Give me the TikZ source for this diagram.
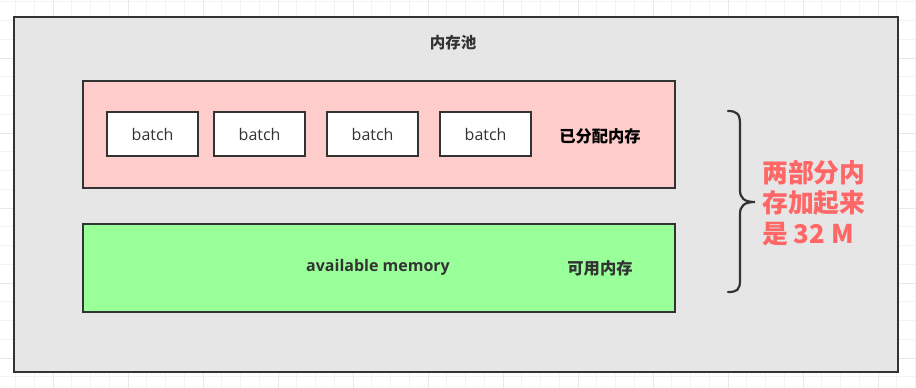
\documentclass[tikz,border=0pt]{standalone}
\usepackage{fontspec}
\setmainfont{Open Sans}
\newfontfamily\cjk{Noto Sans CJK SC}
\definecolor{ink}{HTML}{333333}
\definecolor{poolfill}{HTML}{E6E6E6}
\definecolor{pinkfill}{HTML}{FFCCCC}
\definecolor{greenfill}{HTML}{99FF99}
\definecolor{redtxt}{HTML}{FF6666}
\definecolor{gridminor}{HTML}{F3F3F3}
\definecolor{gridmajor}{HTML}{E9E9E9}
\tikzset{
  boxstyle/.style={draw=ink, line width=2.2pt, inner sep=0pt, anchor=north west},
  batchbox/.style={boxstyle, fill=white, minimum width=91pt, minimum height=44pt,
    font=\fontsize{16}{19}\selectfont, text=ink},
  cjklabel/.style={font=\cjk\bfseries\fontsize{16.3}{19}\selectfont, inner sep=0pt},
}
\begin{document}
\begin{tikzpicture}[x=1pt,y=-1pt]
\useasboundingbox (0,0) rectangle (916,388);
\fill[white] (0,0) rectangle (916,388);
% grid
\foreach \k in {-2,...,46} {
  \draw[gridminor, line width=0.8pt] ({53+18.75*\k},0) -- ({53+18.75*\k},388);
}
\foreach \k in {0,...,20} {
  \draw[gridminor, line width=0.8pt] (0,{1.75+18.75*\k}) -- (916,{1.75+18.75*\k});
}
\foreach \k in {0,...,11} {
  \draw[gridmajor, line width=0.9pt] ({53+75*\k},0) -- ({53+75*\k},388);
}
\foreach \k in {0,...,4} {
  \draw[gridmajor, line width=0.9pt] (0,{58+75*\k}) -- (916,{58+75*\k});
}
% pool
\node[boxstyle, fill=poolfill, minimum width=884pt, minimum height=355pt] (pool) at (12.5,16) {};
\node[cjklabel, text=ink, font=\cjk\bfseries\fontsize{15.5}{18}\selectfont] (pooltitle) at (453,43) {内存池};
% allocated
\node[boxstyle, fill=pinkfill, minimum width=592pt, minimum height=107pt] (alloc) at (82,80) {};
\node[batchbox] (b1) at (106,111) {batch};
\node[batchbox] (b2) at (213,111) {batch};
\node[batchbox] (b3) at (326,111) {batch};
\node[batchbox] (b4) at (439,111) {batch};
\node[cjklabel, text=black] (alloclabel) at (600,136) {已分配内存};
% available
\node[boxstyle, fill=greenfill, minimum width=592pt, minimum height=88pt] (avail) at (82,223) {};
\node[font=\bfseries\fontsize{16}{19}\selectfont, text=ink, inner sep=0pt] (availtext) at (378,267) {available memory};
\node[cjklabel, text=ink] (availlabel) at (600,268) {可用内存};
% brace
\coordinate (bt) at (728,111);
\coordinate (bb) at (728,292);
\coordinate (btip) at (755,202);
\draw[ink, line width=2.2pt, line cap=round]
  (bt) .. controls (737,111) and (740,114) .. (740,124) -- (740,190)
  .. controls (740,198) and (744,202) .. (btip)
  .. controls (744,202) and (740,206) .. (740,214) -- (740,280)
  .. controls (740,290) and (737,292) .. (bb);
% note
\node[font=\cjk\bfseries\fontsize{25.8}{30.5}\selectfont, text=redtxt, align=left, anchor=west, inner sep=0pt] (note) at (762,203) {两部分内\\存加起来\\是 32 M};
\end{tikzpicture}
\end{document}
